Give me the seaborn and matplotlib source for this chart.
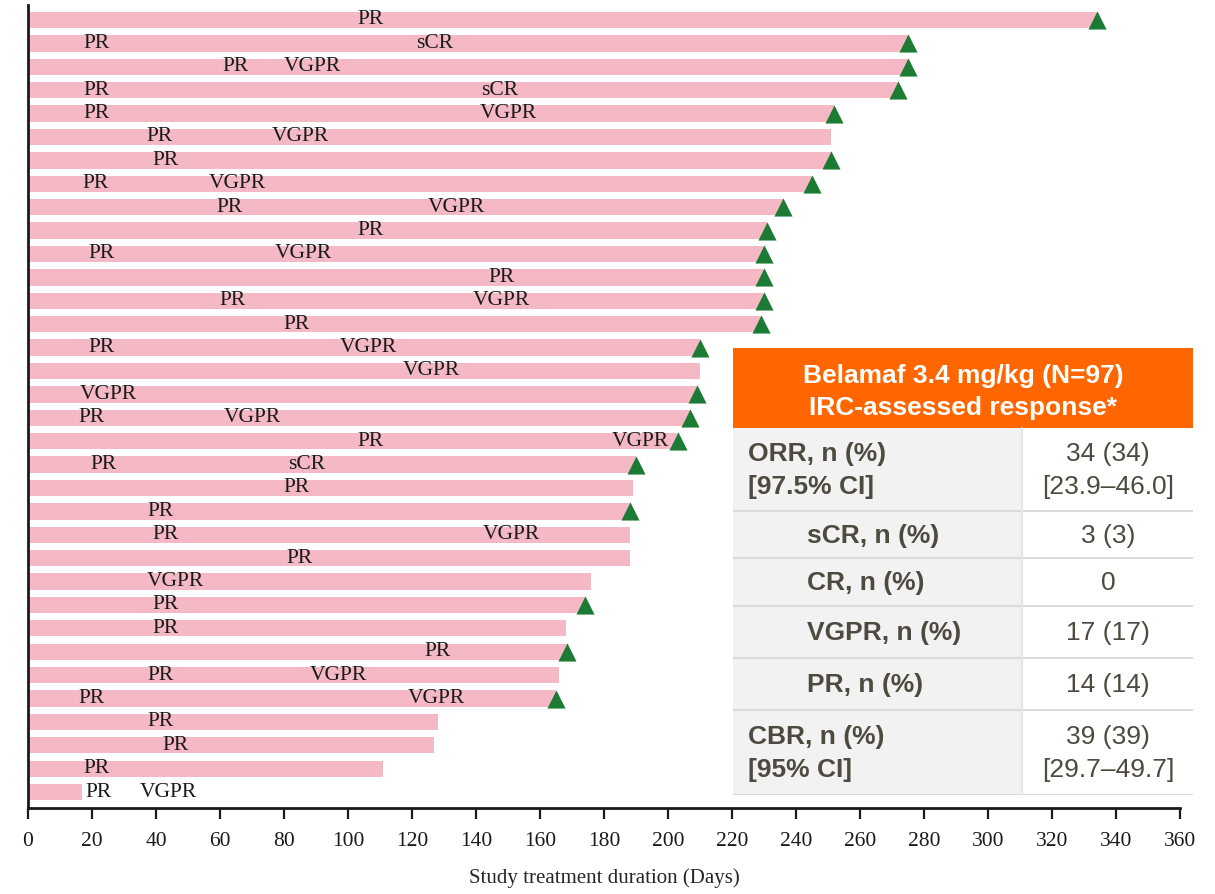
import numpy as np
import pandas as pd
import seaborn as sns
import matplotlib.pyplot as plt
from matplotlib.patches import Rectangle

# treatment duration per patient (days), top to bottom
durations = [334, 275, 275, 272, 252, 251, 251, 245, 236, 231, 230, 230, 230, 229,
             210, 210, 209, 207, 203, 190, 189, 188, 188, 188, 176, 174, 168, 168.5,
             166, 165, 128, 127, 111, 17]
# ongoing treatment (triangle at end of bar)
ongoing = [1, 1, 1, 1, 1, 0, 1, 1, 1, 1, 1, 1, 1, 1,
           1, 0, 1, 1, 1, 1, 0, 1, 0, 0, 0, 1, 0, 1,
           0, 1, 0, 0, 0, 0]
# first and second response labels with the day they were reached
resp1 = ['PR', 'PR', 'PR', 'PR', 'PR', 'PR', 'PR', 'PR', 'PR', 'PR', 'PR', 'PR', 'PR', 'PR',
         'PR', 'VGPR', 'VGPR', 'PR', 'PR', 'PR', 'PR', 'PR', 'PR', 'PR', 'VGPR', 'PR', 'PR', 'PR',
         'PR', 'PR', 'PR', 'PR', 'PR', 'PR']
resp1_day = [107, 21.5, 65, 21.5, 21.5, 41, 43, 21, 63, 107, 23, 148, 64, 84,
             23, 126, 25, 20, 107, 23.5, 84, 41.5, 43, 85, 46, 43, 43, 128,
             41.5, 20, 41.5, 46, 21.5, 22]
resp2 = ['', 'sCR', 'VGPR', 'sCR', 'VGPR', 'VGPR', '', 'VGPR', 'VGPR', '', 'VGPR', '', 'VGPR', '',
         'VGPR', '', '', 'VGPR', 'VGPR', 'sCR', '', '', 'VGPR', '', '', '', '', '',
         'VGPR', 'VGPR', '', '', '', 'VGPR']
resp2_day = [0, 127, 89, 147.5, 150, 85, 0, 65.5, 134, 0, 86, 0, 148, 0,
             106.5, 0, 0, 70, 191.5, 87, 0, 0, 151, 0, 0, 0, 0, 0,
             97, 127.5, 0, 0, 0, 44]

tab_header = ['Belamaf 3.4 mg/kg (N=97)', 'IRC-assessed response*']
tab_rows = ['ORR, n (%)\n[97.5% CI]', 'sCR, n (%)', 'CR, n (%)', 'VGPR, n (%)', 'PR, n (%)',
            'CBR, n (%)\n[95% CI]']
tab_vals = ['34 (34)\n[23.9–46.0]', '3 (3)', '0', '17 (17)', '14 (14)', '39 (39)\n[29.7–49.7]']
tab_indent = [False, True, True, True, True, False]

df = pd.DataFrame({'pid': [f'p{i}' for i in range(len(durations))], 'days': durations})

sns.set_style('ticks')
plt.rcParams['font.family'] = ['Liberation Serif', 'DejaVu Serif']

fig = plt.figure(figsize=(12.15, 8.94), dpi=100)
ax = fig.add_axes([28 / 1215, 1 - 808 / 894, 1152 / 1215, 803 / 894])

sns.barplot(data=df, x='days', y='pid', orient='h', color='#F5B9C5', width=0.7,
            saturation=1, ax=ax, edgecolor='none')

idx = np.arange(len(durations))
on = np.array(ongoing) == 1
ax.scatter(np.array(durations)[on], idx[on], marker='^', s=170, color='#1B7B34', zorder=4,
           linewidths=0)

for i in idx:
    ax.text(resp1_day[i], i, resp1[i], ha='center', va='center', fontsize=15.5, color='#1a1a1a')
    if resp2[i]:
        ax.text(resp2_day[i], i, resp2[i], ha='center', va='center', fontsize=15.5, color='#1a1a1a')

ax.set_xlim(0, 360)
ax.set_ylim(len(durations) - 1 + 0.68, -0.64)
ax.set_xticks(np.arange(0, 361, 20))
ax.set_yticks([])
ax.set_ylabel('')
ax.set_xlabel('Study treatment duration (Days)', fontsize=15, labelpad=13)
ax.tick_params(axis='x', labelsize=15.5, length=8, width=1.6, colors='#1a1a1a', pad=9)
for s in ['top', 'right']:
    ax.spines[s].set_visible(False)
for s in ['left', 'bottom']:
    ax.spines[s].set_linewidth(2)
    ax.spines[s].set_color('#1a1a1a')

# response table overlay (pixel units)
tx = fig.add_axes([733 / 1215, 1 - 795 / 894, 460 / 1215, 447 / 894])
tx.set_xlim(733, 1193)
tx.set_ylim(795, 348)
tx.axis('off')
sans = ['Liberation Sans', 'DejaVu Sans']
txt_col = '#4F4A40'
tx.add_patch(Rectangle((733, 348), 460, 80, color='#FF6600', lw=0))
tx.text(963, 376, tab_header[0], ha='center', va='center', color='white', fontsize=19,
        fontweight='bold', family=sans)
tx.text(963, 408, tab_header[1], ha='center', va='center', color='white', fontsize=19,
        fontweight='bold', family=sans)
bounds = [428, 511, 558, 606, 658, 710, 795]
for k in range(len(tab_rows)):
    y0, y1 = bounds[k], bounds[k + 1]
    tx.add_patch(Rectangle((733, y0), 289, y1 - y0, color='#F2F2F2', lw=0))
    tx.add_patch(Rectangle((1022, y0), 171, y1 - y0, color='white', lw=0))
    tx.plot([733, 1193], [y1, y1], color='#DADADA', lw=1.5)
    ym = (y0 + y1) / 2 + 1
    xl = 807 if tab_indent[k] else 748
    tx.text(xl, ym, tab_rows[k], ha='left', va='center', color=txt_col, fontsize=19,
            fontweight='bold', family=sans, linespacing=1.45)
    tx.text(1108, ym, tab_vals[k], ha='center', va='center', color=txt_col, fontsize=19,
            family=sans, linespacing=1.45)
tx.plot([1022, 1022], [428, 795], color='#E6E6E6', lw=1.5)

fig.savefig('out.png', dpi=100)
